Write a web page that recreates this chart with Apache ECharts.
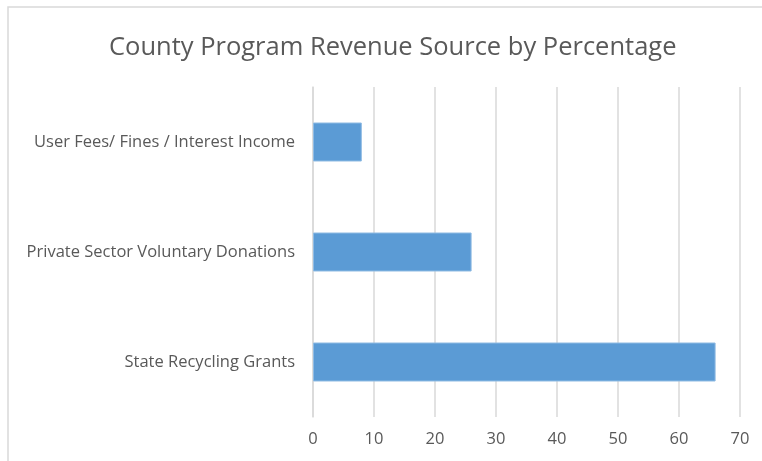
<!DOCTYPE html>
<html>
<head>
<meta charset="utf-8">
<script src="https://cdn.jsdelivr.net/npm/echarts@6/dist/echarts.min.js"></script>
<style>
  html, body { margin: 0; padding: 0; background: #fff; }
  #chart { width: 762px; height: 461px; }
</style>
</head>
<body>
<div id="chart"></div>
<script>
// data
var categories = ['State Recycling Grants', 'Private Sector Voluntary Donations', 'User Fees/ Fines / Interest Income'];
var percentValues = [66, 26, 8];
var xTicks = [0, 70, 10]; // min, max, step

var myChart = echarts.init(document.getElementById('chart'));
var option = {
  animation: false,
  title: {
    text: 'County Program Revenue Source by Percentage',
    left: 104,
    top: 30,
    textStyle: {
      fontFamily: 'Open Sans',
      fontSize: 25.5,
      fontWeight: 'normal',
      color: '#595959'
    }
  },
  graphic: [{
    type: 'rect',
    shape: { x: 8, y: 7, width: 800, height: 500 },
    style: { fill: 'none', stroke: '#d9d9d9', lineWidth: 1.5 },
    silent: true
  }],
  grid: {
    left: 313,
    right: 22,
    top: 87,
    bottom: 44,
    containLabel: false
  },
  xAxis: {
    type: 'value',
    min: xTicks[0],
    max: xTicks[1],
    interval: xTicks[2],
    axisLine: { show: false },
    axisTick: { show: false },
    splitLine: { show: true, lineStyle: { color: '#d9d9d9', width: 1.5 } },
    axisLabel: {
      margin: 14,
      fontFamily: 'Open Sans',
      fontSize: 16.5,
      color: '#595959'
    }
  },
  yAxis: {
    type: 'category',
    data: categories,
    axisLine: { show: true, lineStyle: { color: '#d9d9d9', width: 1.5 } },
    axisTick: { show: false },
    axisLabel: {
      margin: 18,
      fontFamily: 'Open Sans',
      fontSize: 16.5,
      color: '#595959'
    }
  },
  series: [{
    type: 'bar',
    data: percentValues,
    barWidth: 39,
    itemStyle: {
      color: '#5b9bd5',
      borderColor: '#8fbbe3',
      borderWidth: 1
    }
  }]
};
myChart.setOption(option);
</script>
</body>
</html>
